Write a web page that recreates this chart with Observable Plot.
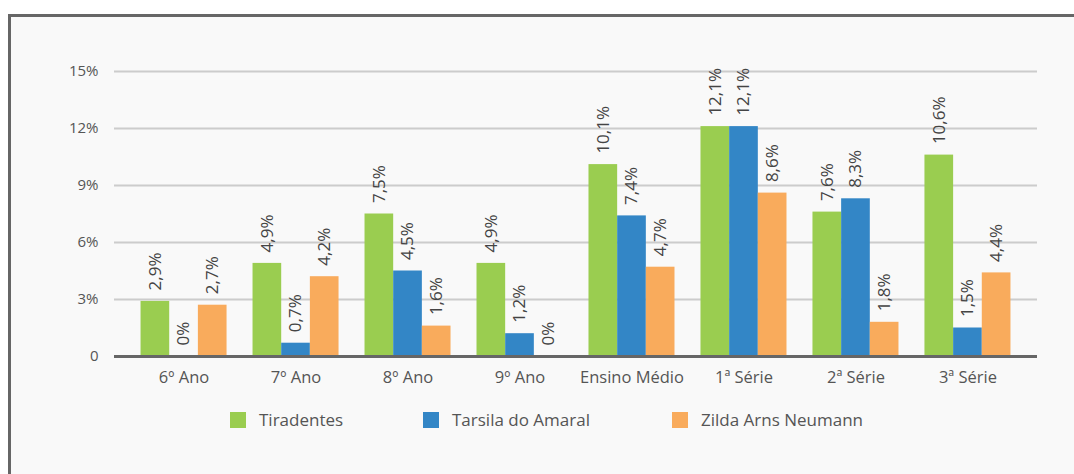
<!DOCTYPE html>
<html>
<head>
<meta charset="utf-8">
<script src="https://cdn.jsdelivr.net/npm/d3@7"></script>
<script src="https://cdn.jsdelivr.net/npm/@observablehq/plot@0.6"></script>
<style>
  html, body { margin: 0; padding: 0; background: #ffffff; width: 1074px; height: 474px; overflow: hidden; }
  #frame { position: absolute; left: 8px; top: 14px; width: 1100px; height: 500px; border: 3px solid #666666; background: #f9f9f9; }
  #chart { position: absolute; left: 0; top: 0; }
  #legend { position: absolute; left: 0; top: 408px; width: 1074px; height: 26px; font-family: "Open Sans", sans-serif; font-size: 17px; color: #555555; }
  .item { position: absolute; top: 0; display: flex; align-items: center; gap: 13px; white-space: nowrap; }
  .sw { width: 16px; height: 16px; display: inline-block; }
</style>
</head>
<body>
<div id="frame"></div>
<div id="chart"></div>
<div id="legend"></div>
<script>
const categories = ["6º Ano", "7º Ano", "8º Ano", "9º Ano", "Ensino Médio", "1ª Série", "2ª Série", "3ª Série"];
const series = ["Tiradentes", "Tarsila do Amaral", "Zilda Arns Neumann"];
const tiradentes = [2.9, 4.9, 7.5, 4.9, 10.1, 12.1, 7.6, 10.6];
const tarsila = [0, 0.7, 4.5, 1.2, 7.4, 12.1, 8.3, 1.5];
const zilda = [2.7, 4.2, 1.6, 0, 4.7, 8.6, 1.8, 4.4];
const colors = ["#9acd50", "#3386c6", "#f9ab5c"];
const yTicks = [0, 3, 6, 9, 12, 15];

const valuesBySeries = [tiradentes, tarsila, zilda];
const fmt = v => String(v).replace(".", ",") + "%";

const width = 1074, height = 390;
const marginLeft = 114, marginRight = 37;
const paddingInner = 0.232, paddingOuter = 0.237;
const n = categories.length;
const step = (width - marginLeft - marginRight) / (n - paddingInner + 2 * paddingOuter);
const band = step * (1 - paddingInner);
const third = band / 3;

const marks = [Plot.ruleY(yTicks, {stroke: "#cccccc", strokeWidth: 2})];
valuesBySeries.forEach((vals, i) => {
  const data = categories.map((c, j) => ({cat: c, value: vals[j]}));
  marks.push(Plot.barY(data, {
    x: "cat", y: "value", fill: colors[i],
    insetLeft: i * third, insetRight: (2 - i) * third
  }));
  marks.push(Plot.text(data, {
    x: "cat", y: "value", text: d => fmt(d.value),
    rotate: -90, textAnchor: "start", dx: (i - 1) * third, dy: -11,
    fill: "#444444", fontSize: 17, fontWeight: 500
  }));
});
marks.push(Plot.ruleY([0], {stroke: "#666666", strokeWidth: 3}));

const chart = Plot.plot({
  width, height,
  marginLeft, marginRight,
  marginTop: 71, marginBottom: 34,
  style: {fontFamily: "Open Sans, sans-serif", fontSize: "15px", background: "transparent", color: "#555555"},
  x: {domain: categories, paddingInner, paddingOuter, round: false, tickSize: 0, tickPadding: 15, label: null},
  y: {domain: [0, 15], ticks: yTicks, tickFormat: d => d === 0 ? "0" : d + "%", tickSize: 0, tickPadding: 16, label: null},
  marks
});
chart.querySelectorAll("g[aria-label='x-axis tick label'] text, g[aria-label='x-axis'] text").forEach(t => t.style.fontSize = "16.5px");
document.getElementById("chart").appendChild(chart);

const legendLeft = [230, 423, 672];
const legend = document.getElementById("legend");
series.forEach((s, i) => {
  const item = document.createElement("div");
  item.className = "item";
  item.style.left = legendLeft[i] + "px";
  const sw = document.createElement("span");
  sw.className = "sw";
  sw.style.background = colors[i];
  const t = document.createElement("span");
  t.textContent = s;
  item.appendChild(sw);
  item.appendChild(t);
  legend.appendChild(item);
});
</script>
</body>
</html>
